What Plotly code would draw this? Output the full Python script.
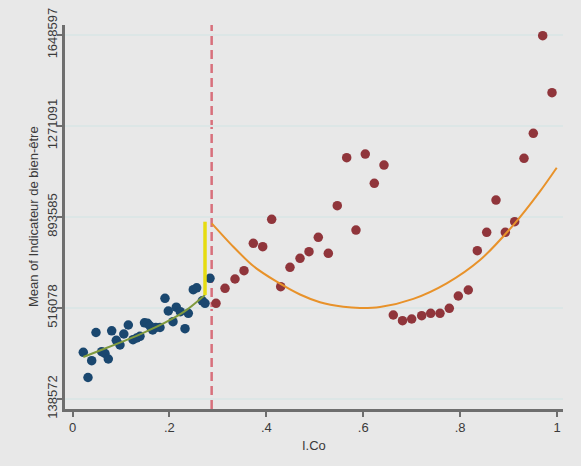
import plotly.graph_objects as go

# ---- data ----
left_x = [0.0223, 0.0396, 0.0320, 0.0485, 0.0603, 0.0671, 0.0739, 0.0809, 0.0904, 0.0980,
          0.1059, 0.1152, 0.1249, 0.1325, 0.1393, 0.1486, 0.1548, 0.1600, 0.1655, 0.1719,
          0.1806, 0.1909, 0.1977, 0.2074, 0.2142, 0.2225, 0.2322, 0.2390, 0.2493, 0.2563,
          0.2679, 0.2735, 0.2838]
left_y = [332300, 297456, 227762, 414440, 334792, 327320, 304492, 421494, 382082, 362564,
          408218, 445544, 384562, 391600, 398672, 454670, 452600, 441376, 424784, 435154,
          435154, 556306, 503596, 459230, 519400, 500712, 430200, 494065, 591972, 599850,
          545946, 535556, 639236]

right_x = [0.2962, 0.3148, 0.3354, 0.3540, 0.3732, 0.3926, 0.4111, 0.4297, 0.4489, 0.4696,
           0.4881, 0.5073, 0.5280, 0.5465, 0.5659, 0.5851, 0.6043, 0.6229, 0.6429, 0.6621,
           0.6811, 0.7001, 0.7207, 0.7393, 0.7585, 0.7777, 0.7963, 0.8169, 0.8355, 0.8549,
           0.8741, 0.8933, 0.9127, 0.9319, 0.9511, 0.9705, 0.9897]
right_y = [535556, 597756, 636332, 670760, 784416, 770312, 883968, 604393, 684864, 722196,
           749572, 809304, 742936, 940380, 1139484, 839584, 1154832, 1033296, 1109204, 487004,
           463360, 470412, 484100, 494065, 494065, 514796, 565816, 590704, 753720, 830040,
           964024, 830040, 874012, 1137000, 1240696, 1645600, 1409104]

fit_left_x = [0.0223, 0.0671, 0.1084, 0.1496, 0.1909, 0.2322, 0.2735]
fit_left_y = [312788, 348000, 381000, 416000, 455000, 503000, 570000]

fit_right_x = [0.2873, 0.3319, 0.3732, 0.4215, 0.4696, 0.5108, 0.5589, 0.5934, 0.6347,
               0.7034, 0.7723, 0.8411, 0.9098, 0.9649, 0.9994]
fit_right_y = [867400, 770312, 690000, 625132, 572000, 540000, 521000, 516000, 520000,
               554000, 618496, 715144, 860000, 1000000, 1098004]

jump_x = [0.2735, 0.2735]
jump_y = [570000, 874012]

cutoff = 0.2872

y_ticks = [138572, 516078, 893585, 1271091, 1648597]
y_tick_labels = ["138572", "516078", "893585", "1271091", "1648597"]
x_ticks = [0, 0.2, 0.4, 0.6, 0.8, 1]
x_tick_labels = ["0", ".2", ".4", ".6", ".8", "1"]

x_title = "I.Co"
y_title = "Mean of Indicateur de bien-être"

# ---- figure ----
fig = go.Figure()

fig.add_vline(x=cutoff, line=dict(color="#d8707c", width=2.5, dash="9px,5px"), layer="below")

fig.add_trace(go.Scatter(x=left_x, y=left_y, mode="markers",
                         marker=dict(color="#1a476f", size=9.5, line=dict(width=0))))
fig.add_trace(go.Scatter(x=right_x, y=right_y, mode="markers",
                         marker=dict(color="#90353b", size=9.5, line=dict(width=0))))
fig.add_trace(go.Scatter(x=fit_left_x, y=fit_left_y, mode="lines", line_shape="spline",
                         line=dict(color="#7f9a3e", width=2, smoothing=0.8)))
fig.add_trace(go.Scatter(x=fit_right_x, y=fit_right_y, mode="lines", line_shape="spline",
                         line=dict(color="#e8922a", width=2, smoothing=0.8)))
fig.add_trace(go.Scatter(x=jump_x, y=jump_y, mode="lines",
                         line=dict(color="#e6dc10", width=3.5)))

axis_color = "#6e6e6e"
font = dict(family="Liberation Sans, Arial, sans-serif", size=13, color="#3a3a3a")

fig.update_layout(
    width=581, height=466,
    margin=dict(l=65, r=18, t=25, b=57, autoexpand=False),
    paper_bgcolor="#e8e8e8", plot_bgcolor="#e8e8e8",
    showlegend=False,
    font=font,
    xaxis=dict(range=[-0.01548, 1.01238], tickvals=x_ticks, ticktext=x_tick_labels,
               showgrid=False, zeroline=False, showline=True, linecolor=axis_color,
               linewidth=2.5, ticks="outside", ticklen=5, tickwidth=1.5, tickcolor=axis_color,
               automargin=False, tickfont=font),
    yaxis=dict(range=[97088, 1690081], tickvals=y_ticks, ticktext=y_tick_labels,
               tickangle=-90, showgrid=True, gridcolor="#dce6e6", gridwidth=1.5,
               zeroline=False, showline=True, linecolor=axis_color, linewidth=2.5,
               ticks="outside", ticklen=5, tickwidth=1.5, tickcolor=axis_color,
               automargin=False, tickfont=font, ticklabelstandoff=-5),
    annotations=[
        dict(text=x_title, xref="paper", yref="paper", x=0.5, y=-36 / 384,
             xanchor="center", yanchor="middle", showarrow=False, font=font),
        dict(text=y_title, xref="paper", yref="paper", x=-32 / 498, y=0.5, textangle=-90,
             xanchor="center", yanchor="middle", showarrow=False, font=font),
    ],
)

fig.write_html("out.html", config={"displayModeBar": False},
               post_script="document.body.style.margin='0px';"
                           "document.body.style.background='#e8e8e8';")
